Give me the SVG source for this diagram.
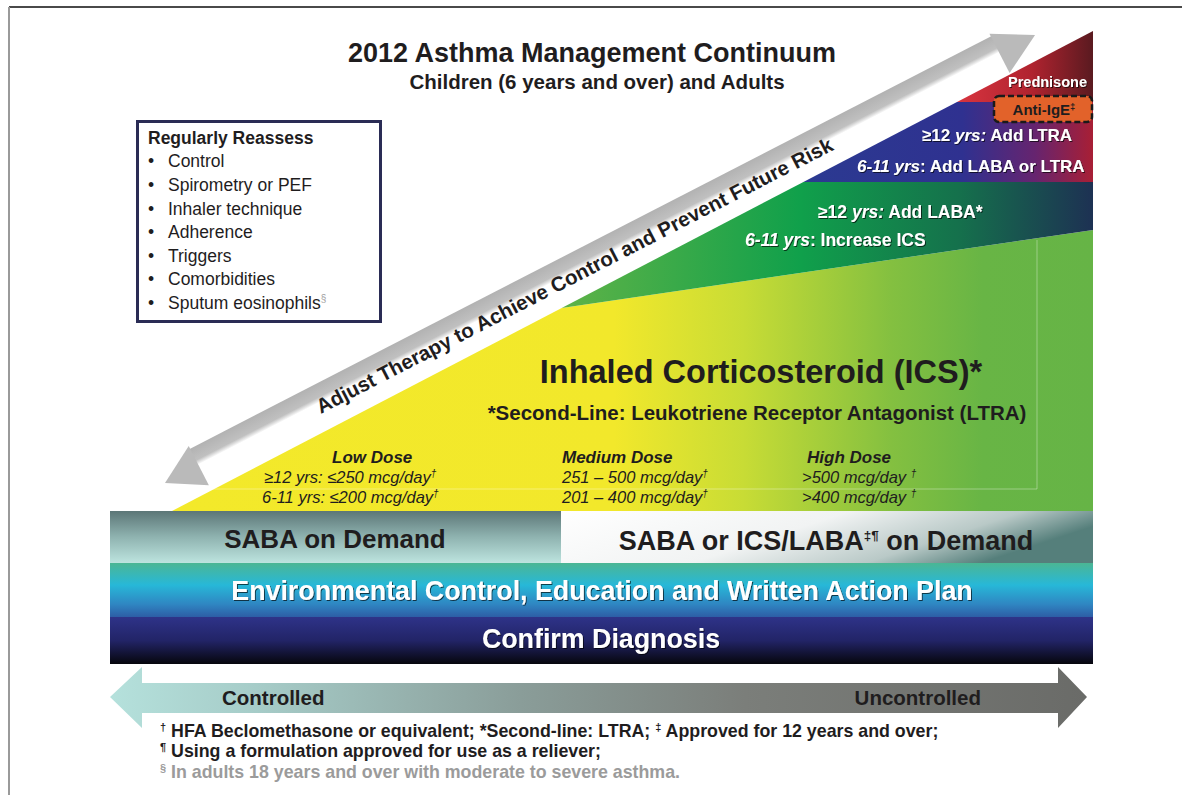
<svg xmlns="http://www.w3.org/2000/svg" width="1182" height="795" viewBox="0 0 1182 795">
  <style>
    text { font-family: "Liberation Sans", Arial, sans-serif; fill: #1f1d1e; }
    .b { font-weight: bold; }
    .i { font-style: italic; }
    .wh { fill: #ffffff; filter: url(#sh); }
    .frame { stroke-width: 2; fill: none; }
    .head { fill: #bababa; }
  </style>
  <defs>
    <filter id="sh" x="-5%" y="-20%" width="110%" height="150%">
      <feDropShadow dx="1" dy="1" stdDeviation="0.7" flood-color="#000" flood-opacity="0.65"/>
    </filter>
    <linearGradient id="gRed" gradientUnits="userSpaceOnUse" x1="957" y1="0" x2="1093" y2="0">
      <stop offset="0" stop-color="#d8343f"/>
      <stop offset="0.55" stop-color="#b0232f"/>
      <stop offset="1" stop-color="#5a1a20"/>
    </linearGradient>
    <linearGradient id="gBlue" gradientUnits="userSpaceOnUse" x1="803" y1="0" x2="1093" y2="0">
      <stop offset="0" stop-color="#2b3a91"/>
      <stop offset="0.55" stop-color="#2f3190"/>
      <stop offset="0.8" stop-color="#66246f"/>
      <stop offset="1" stop-color="#a81f35"/>
    </linearGradient>
    <linearGradient id="gDark" gradientUnits="userSpaceOnUse" x1="561" y1="0" x2="1093" y2="0">
      <stop offset="0" stop-color="#5fb347"/>
      <stop offset="0.45" stop-color="#10a04b"/>
      <stop offset="0.75" stop-color="#15704c"/>
      <stop offset="1" stop-color="#1d3153"/>
    </linearGradient>
    <linearGradient id="gMain" gradientUnits="userSpaceOnUse" x1="172" y1="0" x2="1093" y2="0">
      <stop offset="0" stop-color="#f3e92a"/>
      <stop offset="0.48" stop-color="#f2e82b"/>
      <stop offset="0.62" stop-color="#c8dc35"/>
      <stop offset="0.78" stop-color="#84c040"/>
      <stop offset="0.88" stop-color="#68b545"/>
      <stop offset="1" stop-color="#66b446"/>
    </linearGradient>
    <!-- shaft: grey band along the upper side, softening into white where the label runs -->
    <linearGradient id="gShaft" gradientUnits="userSpaceOnUse" x1="0" y1="-19" x2="0" y2="-1">
      <stop offset="0" stop-color="#b2b2b2"/>
      <stop offset="0.72" stop-color="#c0c0c0"/>
      <stop offset="1" stop-color="#ffffff"/>
    </linearGradient>
    <linearGradient id="gSaba1" x1="0" y1="0" x2="0" y2="1">
      <stop offset="0" stop-color="#5c7677"/>
      <stop offset="0.5" stop-color="#8fb3b0"/>
      <stop offset="1" stop-color="#bde4df"/>
    </linearGradient>
    <linearGradient id="gSaba2" x1="0" y1="0" x2="1" y2="0.3">
      <stop offset="0" stop-color="#ffffff"/>
      <stop offset="0.5" stop-color="#f1f3f3"/>
      <stop offset="0.8" stop-color="#b9c9c7"/>
      <stop offset="1" stop-color="#557f7b"/>
    </linearGradient>
    <linearGradient id="gEnv" x1="0" y1="0" x2="0" y2="1">
      <stop offset="0" stop-color="#4bb694"/>
      <stop offset="0.4" stop-color="#27b8d8"/>
      <stop offset="0.75" stop-color="#2f86c2"/>
      <stop offset="1" stop-color="#2d5aa3"/>
    </linearGradient>
    <linearGradient id="gDx" x1="0" y1="0" x2="0" y2="1">
      <stop offset="0" stop-color="#2e3389"/>
      <stop offset="0.5" stop-color="#222467"/>
      <stop offset="1" stop-color="#06060c"/>
    </linearGradient>
    <linearGradient id="gCtl" gradientUnits="userSpaceOnUse" x1="110" y1="0" x2="1087" y2="0">
      <stop offset="0" stop-color="#b5e1dc"/>
      <stop offset="0.15" stop-color="#a6ccc8"/>
      <stop offset="0.42" stop-color="#8a9d99"/>
      <stop offset="0.65" stop-color="#7b7e7a"/>
      <stop offset="1" stop-color="#6a6b68"/>
    </linearGradient>
  </defs>

  <!-- page frame -->
  <g id="frame">
    <line class="frame" x1="9" y1="7" x2="1182" y2="7" stroke="#4a4a4a"/>
    <line class="frame" x1="9" y1="7" x2="9" y2="795" stroke="#9a9a9a"/>
  </g>

  <!-- title -->
  <g id="title">
    <text class="b" x="592" y="62" font-size="27" text-anchor="middle">2012 Asthma Management Continuum</text>
    <text class="b" x="597" y="89" font-size="20.5" text-anchor="middle">Children (6 years and over) and Adults</text>
  </g>

  <!-- treatment triangle, banded by step -->
  <g id="triangle">
    <polygon points="561.7,308 1093,230 1093,511 172,511" fill="url(#gMain)"/>
    <polygon points="803.4,182 1093,182 1093,230 561.7,308" fill="url(#gDark)"/>
    <polygon points="957,102 1093,102 1093,182 803.4,182" fill="url(#gBlue)"/>
    <polygon points="957,102 1093,31 1093,102" fill="url(#gRed)"/>
    <polyline points="190,489 1037,489 1037,240" fill="none" stroke="#ffffff" stroke-opacity="0.35" stroke-width="1"/>
  </g>

  <!-- add-on therapy labels -->
  <g id="step-prednisone">
    <text class="b wh" x="1008" y="87" font-size="14.5">Prednisone</text>
  </g>
  <g id="step-antiige">
    <rect x="994" y="96" width="98" height="26" rx="5" fill="#e2622a" stroke="#1a1a1a" stroke-width="2.5" stroke-dasharray="6 3"/>
    <text class="b" x="1044" y="114.5" font-size="15" text-anchor="middle" fill="#2a1d14">Anti-IgE<tspan font-size="9.5" dy="-5">‡</tspan></text>
  </g>
  <g id="step-ltra">
    <text class="b wh" x="922" y="141" font-size="17">≥12 <tspan class="i">yrs:</tspan> Add LTRA</text>
    <text class="b wh" x="857" y="172" font-size="17"><tspan class="i">6-11 yrs</tspan>: Add LABA or LTRA</text>
  </g>
  <g id="step-laba">
    <text class="b wh" x="818" y="218" font-size="17.5">≥12 <tspan class="i">yrs:</tspan> Add LABA*</text>
    <text class="b wh" x="745" y="246" font-size="17.5"><tspan class="i">6-11 yrs</tspan>: Increase ICS</text>
  </g>

  <!-- ICS step -->
  <g id="step-ics">
    <text class="b" x="761" y="383" font-size="32.5" text-anchor="middle">Inhaled Corticosteroid (ICS)*</text>
    <text class="b" x="757" y="420" font-size="20.5" text-anchor="middle">*Second-Line: Leukotriene Receptor Antagonist (LTRA)</text>
  </g>

  <!-- dose columns -->
  <g id="dose-low">
    <text class="b i" x="332" y="463" font-size="17">Low Dose</text>
    <text class="i" x="264" y="483" font-size="16.5">≥12 yrs: ≤250 mcg/day<tspan font-size="10" dy="-6">†</tspan></text>
    <text class="i" x="262" y="503" font-size="16.5">6-11 yrs: ≤200 mcg/day<tspan font-size="10" dy="-6">†</tspan></text>
  </g>
  <g id="dose-medium">
    <text class="b i" x="562" y="463" font-size="17">Medium Dose</text>
    <text class="i" x="562" y="483" font-size="16.5">251 – 500 mcg/day<tspan font-size="10" dy="-6">†</tspan></text>
    <text class="i" x="562" y="503" font-size="16.5">201 – 400 mcg/day<tspan font-size="10" dy="-6">†</tspan></text>
  </g>
  <g id="dose-high">
    <text class="b i" x="807" y="463" font-size="17">High Dose</text>
    <text class="i" x="802" y="483" font-size="16.5">&gt;500 mcg/day <tspan font-size="10" dy="-6">†</tspan></text>
    <text class="i" x="802" y="503" font-size="16.5">&gt;400 mcg/day <tspan font-size="10" dy="-6">†</tspan></text>
  </g>

  <!-- reassessment checklist -->
  <g id="reassess">
    <rect x="137.5" y="121.5" width="243" height="200" fill="#ffffff" stroke="#2a2c55" stroke-width="3"/>
    <text class="b" x="148" y="144" font-size="17.5">Regularly Reassess</text>
    <g font-size="17.5">
      <text x="148" y="167">•</text><text x="168" y="167">Control</text>
      <text x="148" y="191">•</text><text x="168" y="191">Spirometry or PEF</text>
      <text x="148" y="215">•</text><text x="168" y="215">Inhaler technique</text>
      <text x="148" y="238">•</text><text x="168" y="238">Adherence</text>
      <text x="148" y="262">•</text><text x="168" y="262">Triggers</text>
      <text x="148" y="285">•</text><text x="168" y="285">Comorbidities</text>
      <text x="148" y="309" fill="#a0a0a0">•</text><text x="168" y="309" fill="#a0a0a0">Sputum eosinophils<tspan font-size="10" dy="-7" fill="#a0a0a0">§</tspan></text>
    </g>
  </g>

  <!-- foundation bars -->
  <g id="bar-saba">
    <rect x="110" y="511" width="451" height="52" fill="url(#gSaba1)"/>
    <text class="b" x="335" y="548" font-size="26" text-anchor="middle">SABA on Demand</text>
  </g>
  <g id="bar-saba-ics">
    <rect x="561" y="511" width="532" height="52" fill="url(#gSaba2)"/>
    <text class="b" x="826" y="550" font-size="27" text-anchor="middle">SABA or ICS/LABA<tspan font-size="13.5" dy="-10">‡¶</tspan><tspan dy="10"> on Demand</tspan></text>
  </g>
  <g id="bar-environment">
    <rect x="110" y="563" width="983" height="55" fill="url(#gEnv)"/>
    <text class="b wh" x="602" y="600" font-size="26.8" text-anchor="middle">Environmental Control, Education and Written Action Plan</text>
  </g>
  <g id="bar-diagnosis">
    <rect x="110" y="617" width="983" height="47" fill="url(#gDx)"/>
    <text class="b wh" x="601" y="648" font-size="26.8" text-anchor="middle">Confirm Diagnosis</text>
  </g>

  <!-- connectors: therapy adjustment arrow (drawn along its own axis) and control scale -->
  <g id="connectors">
    <g id="adjust-arrow" transform="translate(165,483) rotate(-27.24)">
      <rect x="37" y="-19" width="902.6" height="18" fill="url(#gShaft)"/>
      <polygon class="head" points="0,0 38,-22 38,22"/>
      <polygon class="head" points="978.6,0 938.6,-22 938.6,22"/>
      <text class="b" x="170" y="10" font-size="20.5">Adjust Therapy to Achieve Control and Prevent Future Risk</text>
    </g>
    <polygon points="110,697 142,667 142,683 1058,683 1058,667 1087,697 1058,728 1058,713 142,713 142,728" fill="url(#gCtl)"/>
    <text class="b" x="222" y="705" font-size="20.5">Controlled</text>
    <text class="b" x="981" y="705" font-size="20.5" text-anchor="end">Uncontrolled</text>
  </g>

  <!-- footnotes -->
  <g id="footnotes">
    <text class="b" x="160" y="737" font-size="17.8"><tspan font-size="11" dy="-6">†</tspan><tspan dy="6"> HFA Beclomethasone or equivalent; *Second-line: LTRA; </tspan><tspan font-size="11" dy="-6">‡</tspan><tspan dy="6"> Approved for 12 years and over;</tspan></text>
    <text class="b" x="160" y="757" font-size="17.8"><tspan font-size="11" dy="-6">¶</tspan><tspan dy="6"> Using a formulation approved for use as a reliever;</tspan></text>
    <text class="b" x="160" y="778" font-size="17.8" fill="#9b9b9b"><tspan font-size="11" dy="-6" fill="#9b9b9b">§</tspan><tspan dy="6" fill="#9b9b9b"> In adults 18 years and over with moderate to severe asthma.</tspan></text>
  </g>
</svg>
